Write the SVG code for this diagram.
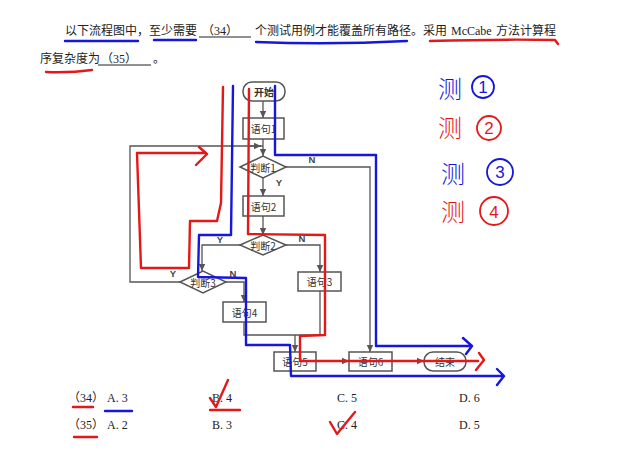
<svg xmlns="http://www.w3.org/2000/svg" width="619" height="466" viewBox="0 0 619 466">
<defs>
<marker id="ah" markerWidth="8" markerHeight="8" refX="7" refY="4" orient="auto" markerUnits="userSpaceOnUse">
<path d="M0,0.8 L7,4 L0,7.2 Z" fill="#555"/>
</marker>
<style>
.q{font-family:"Liberation Serif","Noto Sans CJK SC",serif;font-size:12px;fill:#222}
.box{fill:#fff;stroke:#555;stroke-width:1.5}
.lbl{font-family:"Noto Sans CJK SC","Noto Sans",sans-serif;font-size:10px;fill:#333;text-anchor:middle;dominant-baseline:central}
.yn{font-family:"Liberation Sans","Noto Sans",sans-serif;font-size:9.5px;fill:#444;font-weight:bold;text-anchor:middle;dominant-baseline:central}
.con{fill:none;stroke:#555;stroke-width:1.3}
.bl{fill:none;stroke:#1616dc;stroke-width:2.4;stroke-linejoin:round;stroke-linecap:round}
.rd{fill:none;stroke:#e41818;stroke-width:2.4;stroke-linejoin:round;stroke-linecap:round}
.ul{fill:none;stroke:#222;stroke-width:1}
.hw{font-family:"Noto Sans CJK SC",sans-serif;font-size:24px;font-weight:300}
.num{font-family:"Liberation Sans",sans-serif;font-size:17px;text-anchor:middle;dominant-baseline:central}
</style>
</defs>
<rect width="619" height="466" fill="#fff"/>

<!-- question text -->
<g id="question">
<text class="q" x="65" y="35">以下流程图中，至少需要</text>
<text class="q" x="202" y="35">（34）</text>
<line class="ul" x1="199" y1="37" x2="251" y2="37"/>
<text class="q" x="255" y="35">个测试用例才能覆盖所有路径。采用</text>
<text class="q" x="451" y="35">McCabe</text>
<text class="q" x="496" y="35">方法计算程</text>
<text class="q" x="40" y="63">序复杂度为</text>
<text class="q" x="101" y="63">（35）</text>
<line class="ul" x1="98" y1="65" x2="151" y2="65"/>
<text class="q" x="153" y="63">。</text>
</g>

<!-- choices -->
<g id="choices">
<text class="q" x="68" y="402">（34）</text>
<text class="q" x="107" y="402">A. 3</text>
<text class="q" x="212" y="402">B. 4</text>
<text class="q" x="337" y="402">C. 5</text>
<text class="q" x="459" y="402">D. 6</text>
<text class="q" x="68" y="429">（35）</text>
<text class="q" x="107" y="429">A. 2</text>
<text class="q" x="212" y="429">B. 3</text>
<text class="q" x="337" y="429">C. 4</text>
<text class="q" x="459" y="429">D. 5</text>
</g>

<!-- connectors -->
<g id="connectors">
<line class="con" x1="263" y1="101" x2="263" y2="118" marker-end="url(#ah)"/>
<line class="con" x1="263" y1="139" x2="263" y2="156" marker-end="url(#ah)"/>
<polyline class="con" points="180,282 130,282 130,146 263,146"/>
<line class="con" x1="250" y1="146" x2="261" y2="146" marker-end="url(#ah)"/>
<polyline class="con" points="286,167 370,167 370,352" marker-end="url(#ah)"/>
<line class="con" x1="263" y1="178" x2="263" y2="196" marker-end="url(#ah)"/>
<line class="con" x1="263" y1="216" x2="263" y2="235" marker-end="url(#ah)"/>
<polyline class="con" points="240,245 202,245 202,271" marker-end="url(#ah)"/>
<polyline class="con" points="286,245 320,245 320,272" marker-end="url(#ah)"/>
<polyline class="con" points="226,282 244,282 244,302" marker-end="url(#ah)"/>
<polyline class="con" points="244,322 244,335 320,335 320,291"/>
<line class="con" x1="295" y1="335" x2="295" y2="352" marker-end="url(#ah)"/>
<line class="con" x1="316" y1="361" x2="349" y2="361" marker-end="url(#ah)"/>
<line class="con" x1="392" y1="361" x2="424" y2="361" marker-end="url(#ah)"/>
<text class="yn" x="312" y="159">N</text>
<text class="yn" x="279" y="182">Y</text>
<text class="yn" x="220" y="239">Y</text>
<text class="yn" x="302" y="238">N</text>
<text class="yn" x="173" y="273">Y</text>
<text class="yn" x="233" y="273">N</text>
</g>

<!-- nodes -->
<g id="start"><rect class="box" x="243" y="82" width="42" height="19" rx="9"/><text class="lbl" x="264" y="91.5" font-weight="bold">开始</text></g>
<g id="s1"><rect class="box" x="243" y="118" width="41" height="21"/><text class="lbl" x="263.5" y="128.5">语句1</text></g>
<g id="d1"><polygon class="box" points="240,167 263,156 286,167 263,178"/><text class="lbl" x="263" y="167">判断1</text></g>
<g id="s2"><rect class="box" x="243" y="196" width="41" height="20"/><text class="lbl" x="263.5" y="206">语句2</text></g>
<g id="d2"><polygon class="box" points="240,245 263,235 286,245 263,255"/><text class="lbl" x="263" y="245">判断2</text></g>
<g id="s3"><rect class="box" x="298" y="272" width="43" height="19"/><text class="lbl" x="319.5" y="281.5">语句3</text></g>
<g id="d3"><polygon class="box" points="180,282 203,271 226,282 203,293"/><text class="lbl" x="203" y="282">判断3</text></g>
<g id="s4"><rect class="box" x="223" y="302" width="43" height="20"/><text class="lbl" x="244.5" y="312">语句4</text></g>
<g id="s5"><rect class="box" x="274" y="352" width="42" height="19"/><text class="lbl" x="295" y="361.5">语句5</text></g>
<g id="s6"><rect class="box" x="349" y="352" width="43" height="19"/><text class="lbl" x="370.5" y="361.5">语句6</text></g>
<g id="end"><rect class="box" x="424" y="352" width="42" height="19" rx="9"/><text class="lbl" x="445" y="361.5">结束</text></g>

<!-- hand-drawn annotations -->
<g id="annotations">
<path class="bl" d="M65,41 L138,41 M154,40 L196,40 M256,42 Q330,45 407,41"/>
<path class="rd" d="M430,41 Q500,39 555,40 L558,44 M46,72 Q70,73 92,70"/>
<path class="rd" d="M73,407 L93,407 M74,437 L97,437 M210,410 L240,410"/>
<path class="bl" d="M105,411 L132,411"/>
<path class="rd" d="M210,398 L216,407 L228,380 M330,422 L337,434 L355,412"/>

<path class="bl" d="M275,86 L275,155 L376,155 L376,346 L469,346 M463,338 L472,346 L466,354"/>
<path class="bl" d="M233,86 L231,235 L199,235 L198,277 L246,278 L246,345 L290,345 L291,376 L503,376 M497,369 L504,376 L497,385"/>
<path class="rd" d="M223,87 L221,203 L217,221 L190,221 L189,268 L141,268 L137,153 L206,153 M199,147 L207,154 L196,165"/>
<path class="rd" d="M249,89 L248,234 L325,235 L325,335 L300,336 L300,361 L478,361 M479,353 L484,360 L476,370"/>

<text class="hw" x="438" y="98" fill="#1616dc">测</text>
<circle cx="483" cy="87" r="11" fill="none" stroke="#1616dc" stroke-width="1.8"/>
<text class="num" x="483" y="87" fill="#1616dc">1</text>
<text class="hw" x="438" y="137" fill="#e41818">测</text>
<circle cx="489" cy="128" r="12" fill="none" stroke="#e41818" stroke-width="1.8"/>
<text class="num" x="489" y="128" fill="#e41818">2</text>
<text class="hw" x="441" y="183" fill="#1616dc">测</text>
<circle cx="500" cy="172" r="13" fill="none" stroke="#1616dc" stroke-width="1.8"/>
<text class="num" x="500" y="172" fill="#1616dc">3</text>
<text class="hw" x="441" y="221" fill="#e41818">测</text>
<circle cx="494" cy="211" r="14" fill="none" stroke="#e41818" stroke-width="1.8"/>
<text class="num" x="494" y="212" fill="#e41818">4</text>
</g>
</svg>
